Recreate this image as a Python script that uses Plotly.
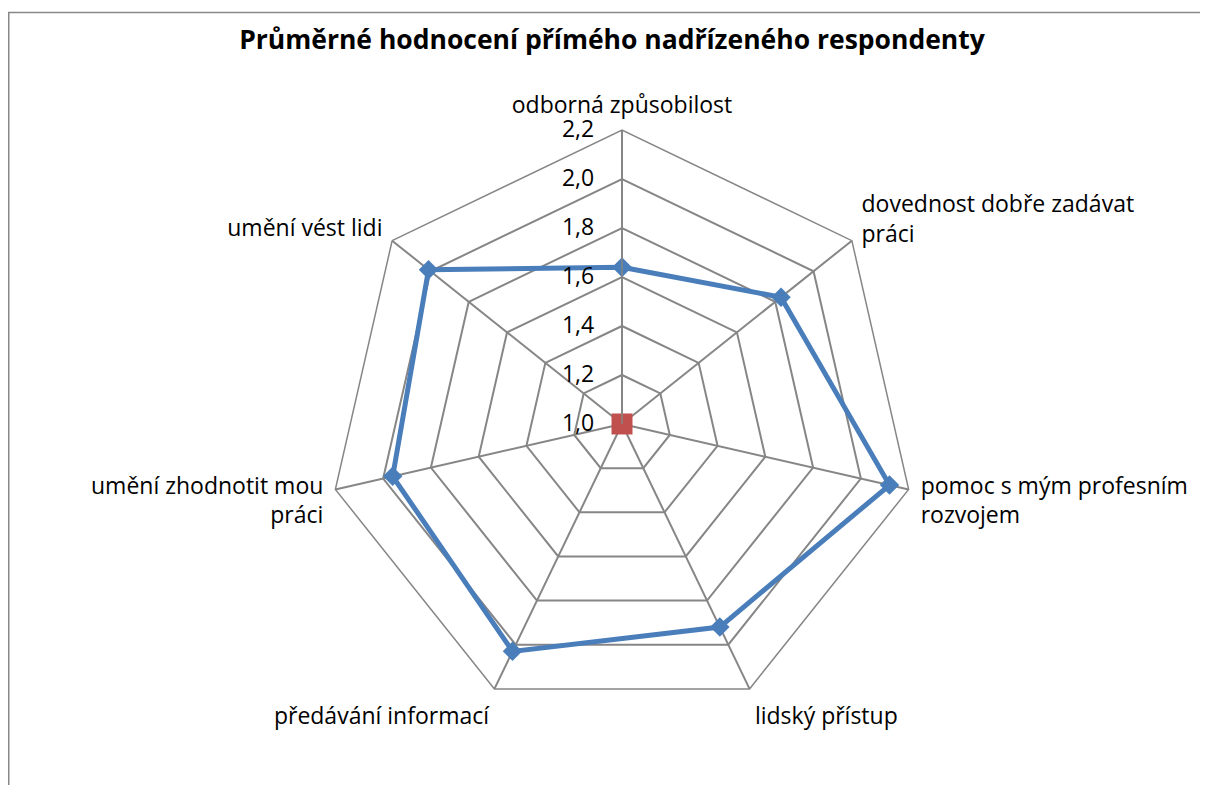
import plotly.graph_objects as go

categories = [
    "odborná způsobilost",
    "dovednost dobře zadávat<br>práci",
    "pomoc s mým profesním<br>rozvojem",
    "lidský přístup",
    "předávání informací",
    "umění zhodnotit mou<br>práci",
    "umění vést lidi",
]
values = [1.64, 1.83, 2.12, 1.92, 2.03, 1.96, 2.01]
base_category = ["odborná způsobilost"]
base_value = [1.0]
radial_ticks = [1.0, 1.2, 1.4, 1.6, 1.8, 2.0, 2.2]
title_text = "Průměrné hodnocení přímého nadřízeného respondenty"

# page has an 8px body margin; figure coordinates = screen - 8
W, H = 1200, 777
off = 8
cx, cy, R = 622 - off, 424 - off, 294

fig = go.Figure()
fig.add_trace(go.Scatterpolar(
    r=values + values[:1],
    theta=categories + categories[:1],
    mode="lines+markers",
    line=dict(color="#4A7EBB", width=5),
    marker=dict(symbol="diamond", size=15, color="#4A7EBB"),
    showlegend=False,
))
fig.add_trace(go.Scatterpolar(
    r=base_value,
    theta=base_category,
    mode="markers",
    cliponaxis=False,
    marker=dict(symbol="square", size=21, color="#C0504D"),
    showlegend=False,
))

grid = "#868686"
fs = 23
fig.update_layout(
    width=W, height=H,
    margin=dict(l=0, r=0, t=0, b=0),
    paper_bgcolor="white",
    separators=", ",
    font=dict(family="Open Sans", size=fs, color="#000000"),
    title=dict(text="<b>" + title_text + "</b>", x=(612 - off) / W, y=1 - (40 - off) / H,
               xanchor="center", yanchor="middle",
               font=dict(family="Open Sans", size=26.5, color="#000000")),
    polar=dict(
        domain=dict(x=[(cx - R) / W, (cx + R) / W], y=[1 - (cy + R) / H, 1 - (cy - R) / H]),
        bgcolor="white",
        gridshape="linear",
        radialaxis=dict(
            range=[0.9999, 2.2], tickvals=radial_ticks, tickformat=".1f",
            angle=90, tickangle=90, side="counterclockwise",
            ticks="outside", ticklen=19, tickcolor="rgba(0,0,0,0)",
            showline=True, linecolor=grid, linewidth=1.5,
            gridcolor=grid, gridwidth=1.5,
            tickfont=dict(family="Open Sans", size=fs, color="#000000"),
        ),
        angularaxis=dict(
            categoryorder="array", categoryarray=categories,
            direction="clockwise", rotation=90,
            showline=True, linecolor=grid, linewidth=1.5,
            gridcolor=grid, gridwidth=1.5,
            ticks="outside", ticklen=7, tickcolor="rgba(0,0,0,0)",
            tickfont=dict(family="Open Sans", size=fs, color="#000000"),
        ),
    ),
    shapes=[dict(type="rect", xref="paper", yref="paper",
                 x0=0.75 / W, x1=1.02, y0=-0.02, y1=1 - (12.5 - off) / H,
                 line=dict(color="#888888", width=1.5), fillcolor="rgba(0,0,0,0)",
                 layer="below")],
)

fig.write_html("out.html")
